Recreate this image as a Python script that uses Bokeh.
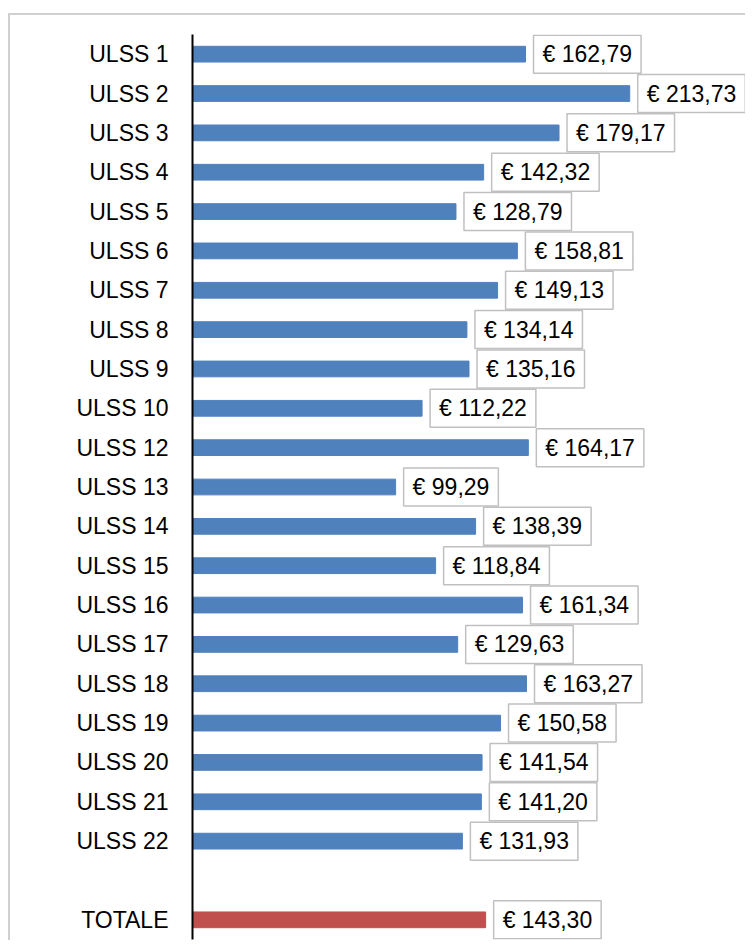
from bokeh.plotting import figure
from bokeh.models import FactorRange, Range1d, ColumnDataSource
from bokeh.core.properties import value
from bokeh.embed import file_html
from bokeh.resources import INLINE

categories = ["ULSS 1", "ULSS 2", "ULSS 3", "ULSS 4", "ULSS 5", "ULSS 6", "ULSS 7",
              "ULSS 8", "ULSS 9", "ULSS 10", "ULSS 12", "ULSS 13", "ULSS 14",
              "ULSS 15", "ULSS 16", "ULSS 17", "ULSS 18", "ULSS 19", "ULSS 20",
              "ULSS 21", "ULSS 22", "TOTALE"]
values = [162.79, 213.73, 179.17, 142.32, 128.79, 158.81, 149.13, 134.14, 135.16,
          112.22, 164.17, 99.29, 138.39, 118.84, 161.34, 129.63, 163.27, 150.58,
          141.54, 141.20, 131.93, 143.30]
BLUE = "#4F81BD"
RED = "#C0504D"
colors = [BLUE] * 21 + [RED]
labels = ["€ " + f"{v:.2f}".replace(".", ",") for v in values]

# bottom-to-top factor order, with a blank row before TOTALE
factors = ["TOTALE", " "] + categories[:-1][::-1]

src = ColumnDataSource(dict(cat=categories, val=values, color=colors, lab=labels))

p = figure(width=737, height=927, y_range=FactorRange(factors=factors, range_padding=0),
           x_range=Range1d(0, 271.3), output_backend="svg", toolbar_location=None,
           min_border_left=182, min_border_right=0, min_border_top=19, min_border_bottom=3)
p.styles = {"margin-top": "13px", "margin-left": "8px",
            "border-top": "2px solid #D0D0D0", "border-left": "2px solid #D0D0D0"}

p.hbar(y="cat", left=0, right="val", height=0.4, color="color", source=src)

p.text(x="val", y="cat", text="lab", source=src, x_offset=8,
       text_align="left", text_baseline="middle",
       text_font=value("Liberation Sans"), text_font_size="23px", text_color="black",
       background_fill_color="white", border_line_color="#C0C0C0",
       border_line_width=1.5, padding=dict(left=9, right=9, top=6, bottom=6))

p.xaxis.visible = False
p.xgrid.visible = False
p.ygrid.visible = False
p.outline_line_color = None
ax = p.yaxis[0]
ax.axis_line_color = "black"
ax.axis_line_width = 2
ax.major_tick_line_color = None
ax.minor_tick_line_color = None
ax.major_label_standoff = 18
ax.major_label_text_font = "Liberation Sans"
ax.major_label_text_font_size = "23px"
ax.major_label_text_color = "black"

open("out.html", "w").write(file_html(p, INLINE))
